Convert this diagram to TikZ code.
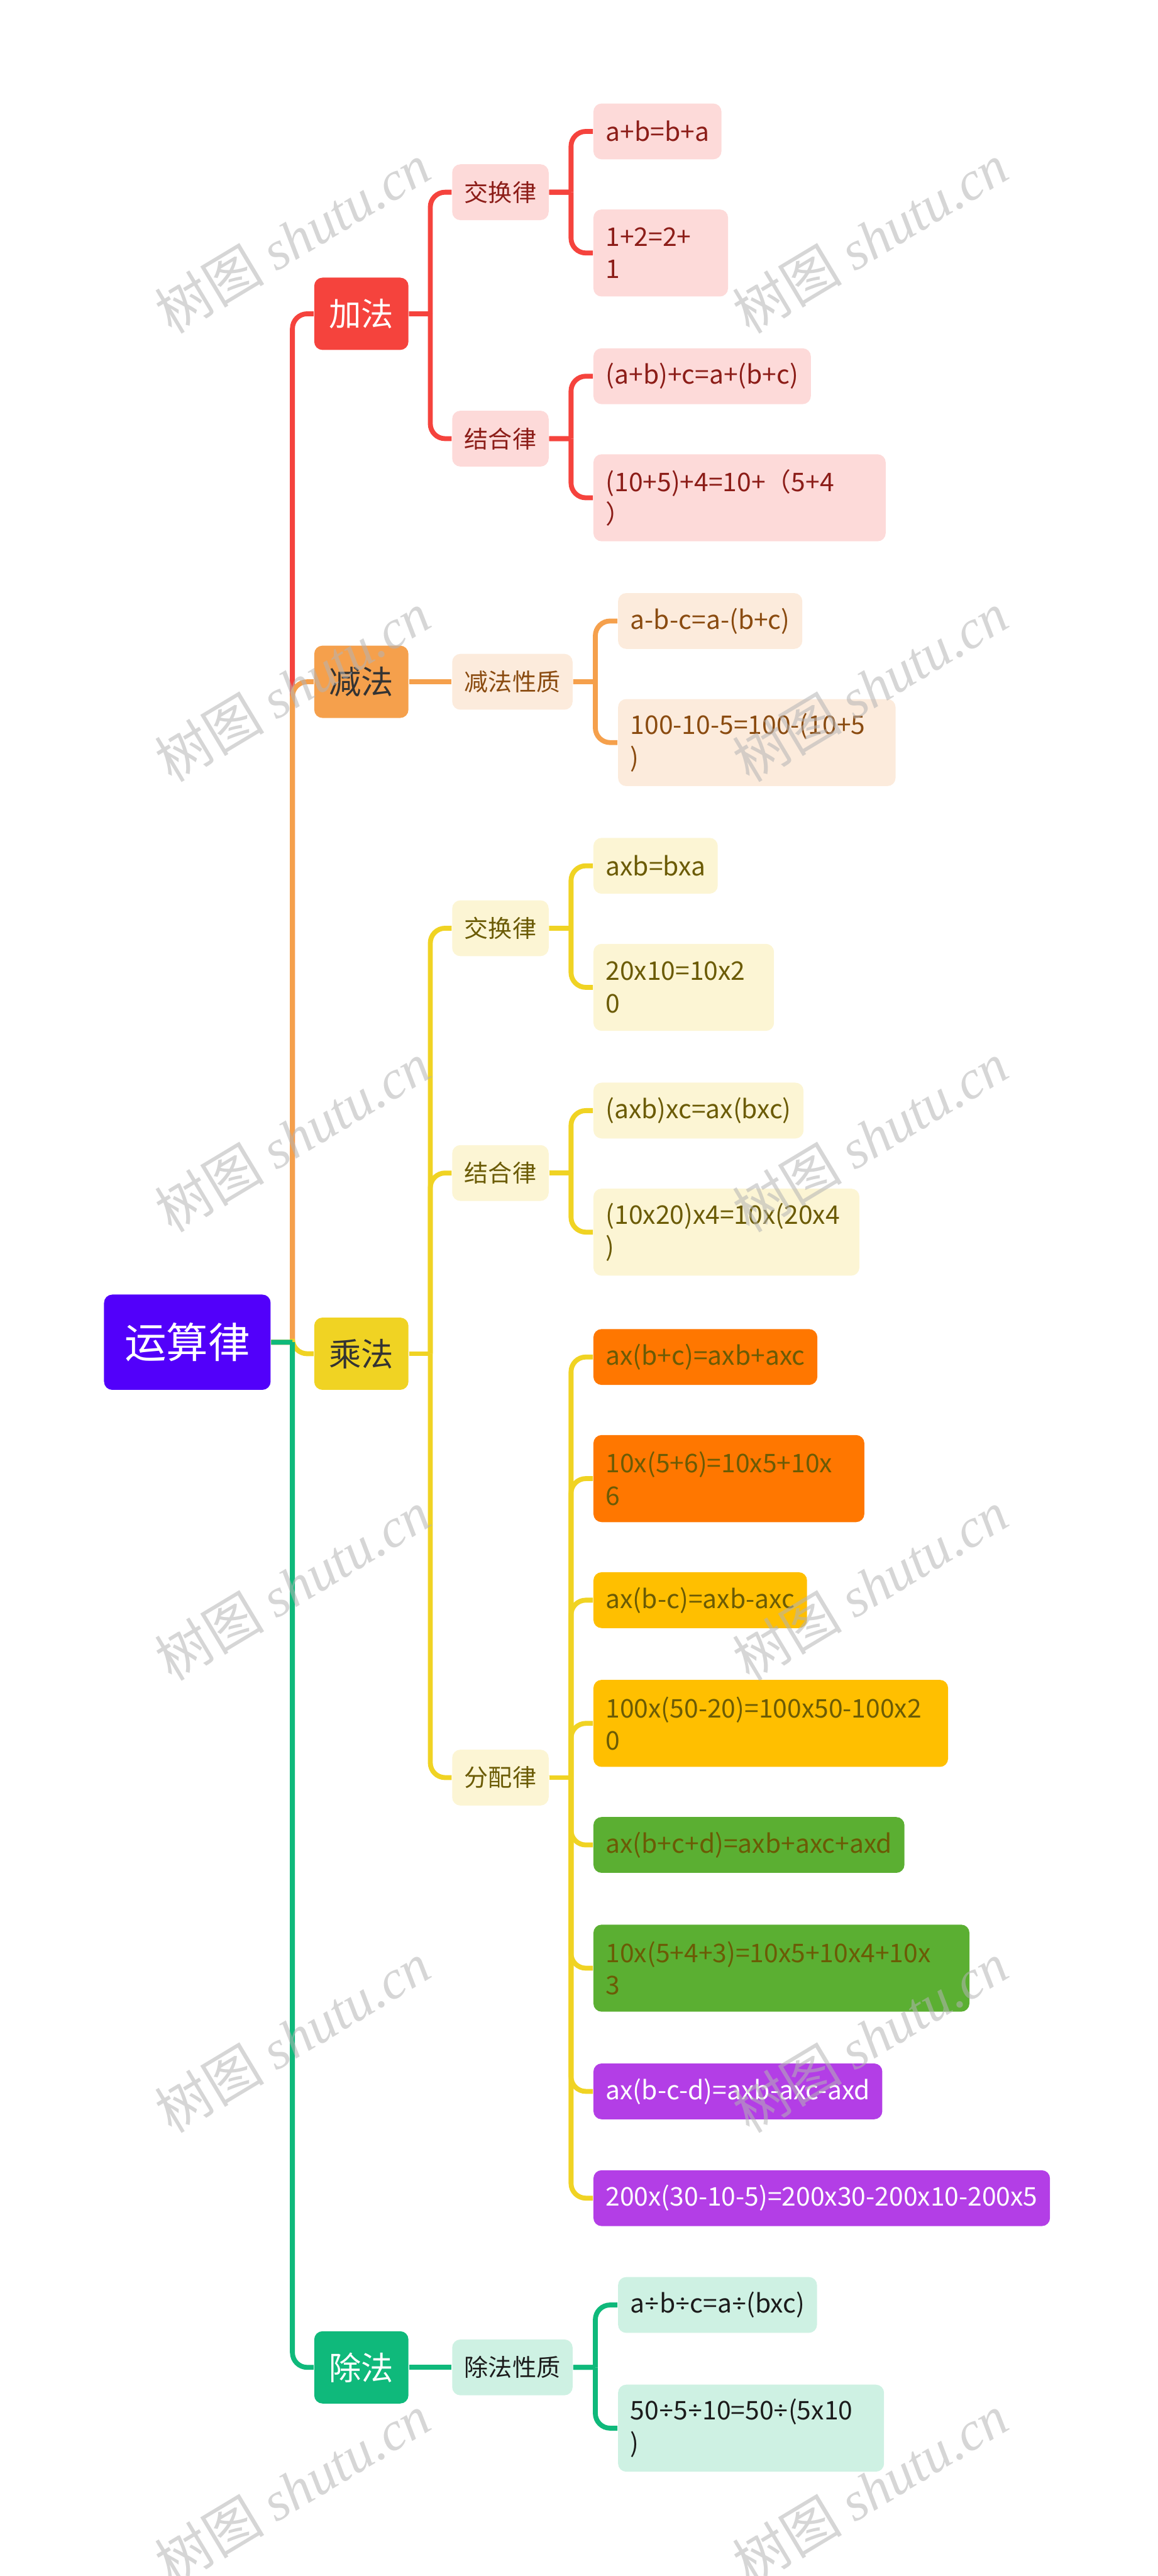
\documentclass[tikz,border=0pt]{standalone}
\usepackage{fontspec}
\setmainfont{Noto Sans CJK SC}
\newfontfamily\wmfont{Liberation Serif}
\newfontfamily\narrowfont{Noto Sans}
\newcommand{\dv}{{\narrowfont ÷}}
\usetikzlibrary{calc}

\definecolor{rootc}{HTML}{5200FA}
\definecolor{addc}{HTML}{F5433D}
\definecolor{addl}{HTML}{FDDAD9}
\definecolor{addt}{HTML}{8C1D18}
\definecolor{subc}{HTML}{F5A04C}
\definecolor{subl}{HTML}{FCEBDC}
\definecolor{subt}{HTML}{8A4B10}
\definecolor{mulc}{HTML}{F0D323}
\definecolor{mull}{HTML}{FCF5D4}
\definecolor{mult}{HTML}{6B5B05}
\definecolor{divc}{HTML}{0FB97B}
\definecolor{divl}{HTML}{CEF1E3}
\definecolor{divt}{HTML}{1B1B1B}
\definecolor{dorange}{HTML}{FF7700}
\definecolor{damber}{HTML}{FFBF00}
\definecolor{dgreen}{HTML}{5BAF32}
\definecolor{dpurple}{HTML}{B33EE6}
\definecolor{wmgray}{HTML}{B4B4B4}

\begin{document}
\begin{tikzpicture}[
    x=0.02cm, y=-0.02cm,
    box/.style={rounded corners=0.1cm, anchor=west, inner ysep=0pt, align=left},
    rootnode/.style={box, fill=rootc, text=white, inner xsep=0.25cm, minimum height=1.16cm, font=\fontsize{14.5}{17}\selectfont},
    topic/.style={box, inner xsep=0.18cm, minimum height=0.88cm, font=\fontsize{11.2}{13}\selectfont},
    subtopic/.style={box, inner xsep=0.15cm, minimum height=0.68cm, font=\fontsize{8.3}{10}\selectfont},
    leaf/.style={box, inner xsep=0.15cm, minimum height=0.68cm, font=\fontsize{8.9}{11.2}\selectfont},
    tall/.style={minimum height=1.06cm, text width=#1},
    wire/.style={line width=1.7pt},
    wmark/.style={text=wmgray, opacity=0.55, rotate=31, font=\fontsize{19}{19}\selectfont}
    ]

    \useasboundingbox (0, 0) rectangle (705, 1568);

    % Root
    \node[rootnode] (root) at (63, 817) {运算律};

    % Four operations
    \node[topic, fill=addc, text=white] (add) at (191, 191) {加法};
    \node[topic, fill=subc, text=black!80] (sub) at (191, 415) {减法};
    \node[topic, fill=mulc, text=black!80] (mul) at (191, 824) {乘法};
    \node[topic, fill=divc, text=white] (div) at (191, 1441) {除法};

    % Addition
    \node[subtopic, fill=addl, text=addt] (add1) at (275, 117) {交换律};
    \node[subtopic, fill=addl, text=addt] (add2) at (275, 267) {结合律};
    \node[leaf, fill=addl, text=addt] (add1a) at (361, 80) {a+b=b+a};
    \node[leaf, tall=1.34cm, fill=addl, text=addt] (add1b) at (361, 154) {1+2=2+\\1};
    \node[leaf, fill=addl, text=addt] (add2a) at (361, 229) {(a+b)+c=a+(b+c)};
    \node[leaf, tall=3.26cm, fill=addl, text=addt] (add2b) at (361, 303) {(10+5)+4=10+（5+4\\）};

    % Subtraction
    \node[subtopic, fill=subl, text=subt] (sub1) at (275, 415) {减法性质};
    \node[leaf, fill=subl, text=subt] (sub1a) at (376, 378) {a-b-c=a-(b+c)};
    \node[leaf, tall=3.08cm, fill=subl, text=subt] (sub1b) at (376, 452) {100-10-5=100-(10+5\\)};

    % Multiplication
    \node[subtopic, fill=mull, text=mult] (mul1) at (275, 565) {交换律};
    \node[subtopic, fill=mull, text=mult] (mul2) at (275, 714) {结合律};
    \node[subtopic, fill=mull, text=mult] (mul3) at (275, 1082) {分配律};
    \node[leaf, fill=mull, text=mult] (mul1a) at (361, 527) {axb=bxa};
    \node[leaf, tall=1.9cm, fill=mull, text=mult] (mul1b) at (361, 601) {20x10=10x2\\0};
    \node[leaf, fill=mull, text=mult] (mul2a) at (361, 676) {(axb)xc=ax(bxc)};
    \node[leaf, tall=2.94cm, fill=mull, text=mult] (mul2b) at (361, 750) {(10x20)x4=10x(20x4\\)};
    \node[leaf, fill=dorange, text=mult] (mul3a) at (361, 826) {ax(b+c)=axb+axc};
    \node[leaf, tall=3.0cm, fill=dorange, text=mult] (mul3b) at (361, 900) {10x(5+6)=10x5+10x\\6};
    \node[leaf, fill=damber, text=mult] (mul3c) at (361, 974) {ax(b-c)=axb-axc};
    \node[leaf, tall=4.02cm, fill=damber, text=mult] (mul3d) at (361, 1049) {100x(50-20)=100x50-100x2\\0};
    \node[leaf, fill=dgreen, text=mult] (mul3e) at (361, 1123) {ax(b+c+d)=axb+axc+axd};
    \node[leaf, tall=4.28cm, fill=dgreen, text=mult] (mul3f) at (361, 1198) {10x(5+4+3)=10x5+10x4+10x\\3};
    \node[leaf, fill=dpurple, text=white] (mul3g) at (361, 1273) {ax(b-c-d)=axb-axc-axd};
    \node[leaf, fill=dpurple, text=white] (mul3h) at (361, 1338) {200x(30-10-5)=200x30-200x10-200x5};

    % Division
    \node[subtopic, fill=divl, text=divt] (div1) at (275, 1441) {除法性质};
    \node[leaf, fill=divl, text=divt] (div1a) at (376, 1403) {a\dv b\dv c=a\dv(bxc)};
    \node[leaf, tall=2.94cm, fill=divl, text=divt] (div1b) at (376, 1478) {50\dv5\dv10=50\dv(5x10\\)};

    % Connectors: straight stub from the parent, rounded bend into the child
    \foreach \p/\c/\col in {root/add/addc, root/sub/subc, root/mul/mulc, root/div/divc,
        add/add1/addc, add/add2/addc, add1/add1a/addc, add1/add1b/addc, add2/add2a/addc, add2/add2b/addc,
        sub1/sub1a/subc, sub1/sub1b/subc,
        mul/mul1/mulc, mul/mul2/mulc, mul/mul3/mulc, mul1/mul1a/mulc, mul1/mul1b/mulc,
        mul2/mul2a/mulc, mul2/mul2b/mulc,
        mul3/mul3a/mulc, mul3/mul3b/mulc, mul3/mul3c/mulc, mul3/mul3d/mulc,
        mul3/mul3e/mulc, mul3/mul3f/mulc, mul3/mul3g/mulc, mul3/mul3h/mulc,
        div1/div1a/divc, div1/div1b/divc} {
        \draw[wire, \col] (\p.east) -- ($(\p.east)!.5!(\p.east -| \c.west)$) coordinate (j);
        \draw[wire, \col, rounded corners=0.18cm] (j) |- (\c.west);
    }
    % single children sit level with their parent
    \foreach \p/\c/\col in {sub/sub1/subc, div/div1/divc}
        \draw[wire, \col] (\p.east) -- (\c.west);

    % Watermarks
    \foreach \y in {145, 418, 692, 965, 1240, 1515} {
        \node[wmark] (wl-\y) at (178, \y) {树图 {\wmfont\itshape shutu.cn}};
        \node[wmark] (wr-\y) at (530, \y) {树图 {\wmfont\itshape shutu.cn}};
    }

\end{tikzpicture}
\end{document}
